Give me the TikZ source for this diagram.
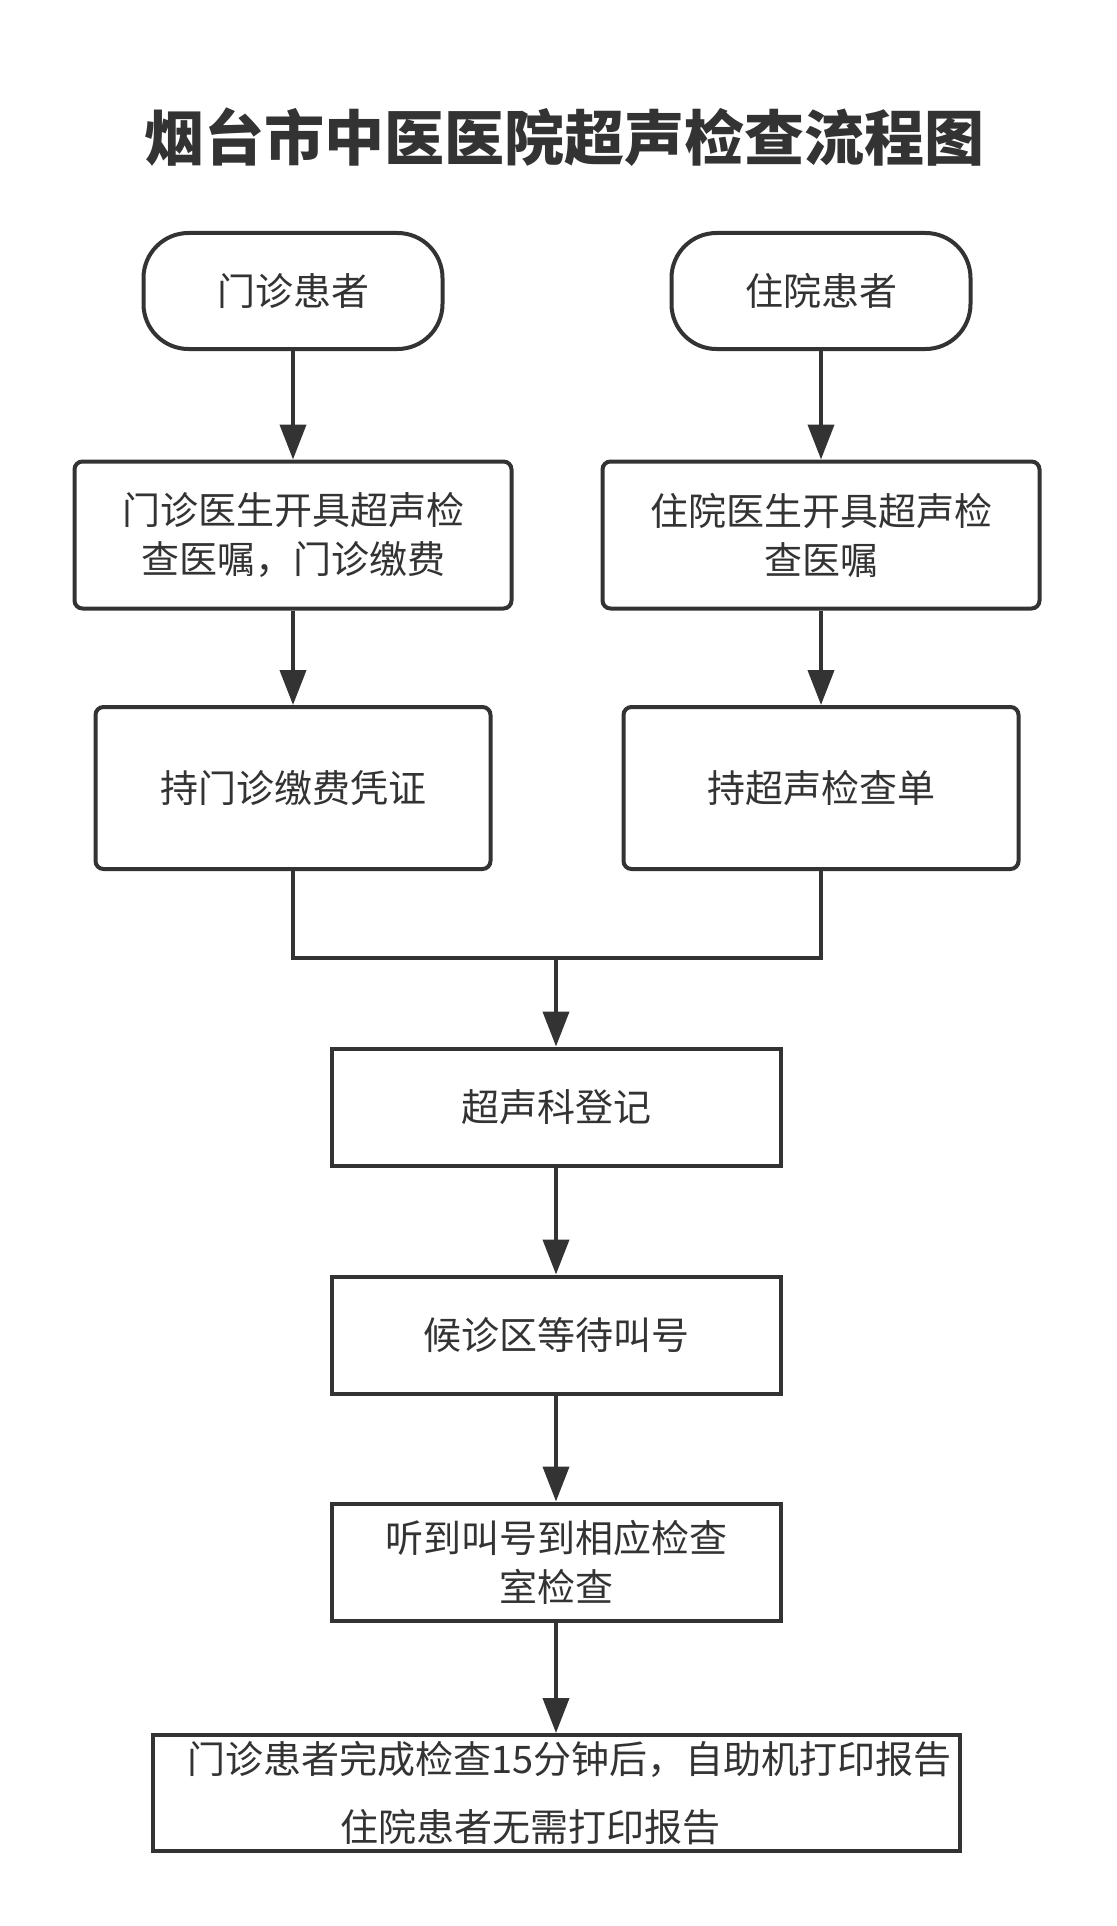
\documentclass[tikz,border=0pt]{standalone}
\usepackage{fontspec}
\setmainfont{Noto Sans CJK SC}
\usetikzlibrary{arrows.meta}
\definecolor{ink}{HTML}{333333}
\tikzset{
  box/.style={draw=ink, line width=4pt, text=ink, font=\fontsize{38}{49}\selectfont, align=center, inner sep=0pt},
  start/.style={box, rounded corners=45pt, minimum width=299pt, minimum height=116pt},
  card/.style={box, rounded corners=8pt, minimum width=437pt, minimum height=147pt},
  hold/.style={box, rounded corners=8pt, minimum width=395pt, minimum height=162pt},
  stage/.style={box, minimum width=449pt, minimum height=117pt},
  flow/.style={draw=ink, line width=4pt, -{Triangle[length=35pt, width=26pt]}},
}
\begin{document}
\begin{tikzpicture}[x=1pt, y=-1pt]
    \useasboundingbox[fill=white] (0,0) rectangle (1116,1926);
    \node[text=ink, font=\fontsize{60}{70}\selectfont\bfseries] (title) at (564,137) {烟台市中医医院超声检查流程图};
    % two entry columns
    \node[start] (op) at (293,291) {门诊患者};
    \node[start] (ip) at (821,291) {住院患者};
    \node[card] (od) at (293,535) {门诊医生开具超声检\\查医嘱，门诊缴费};
    \node[card] (id) at (821,535) {住院医生开具超声检\\查医嘱};
    \node[hold] (ov) at (293,788) {持门诊缴费凭证};
    \node[hold] (iv) at (821,788) {持超声检查单};
    \draw[flow] (op) -- (od);
    \draw[flow] (ip) -- (id);
    \draw[flow] (od) -- (ov);
    \draw[flow] (id) -- (iv);
    % merged steps
    \coordinate (join) at (556,958);
    \node[stage] (reg) at (556,1107) {超声科登记};
    \node[stage] (wait) at (556,1335) {候诊区等待叫号};
    \node[stage] (room) at (556,1562) {听到叫号到相应检查\\室检查};
    \node[box, minimum width=807pt, minimum height=116pt, text width=790pt, align=left, font=\fontsize{38}{68}\selectfont] (report) at (556,1793)
        {\hspace*{26pt}门诊患者完成检查15分钟后，自助机打印报告\\\hspace*{179pt}住院患者无需打印报告};
    \draw[draw=ink, line width=4pt] (ov.south) |- (join) -| (iv.south);
    \draw[flow] (join) -- (reg);
    \draw[flow] (reg) -- (wait);
    \draw[flow] (wait) -- (room);
    \draw[flow] (room) -- (report);
\end{tikzpicture}
\end{document}
